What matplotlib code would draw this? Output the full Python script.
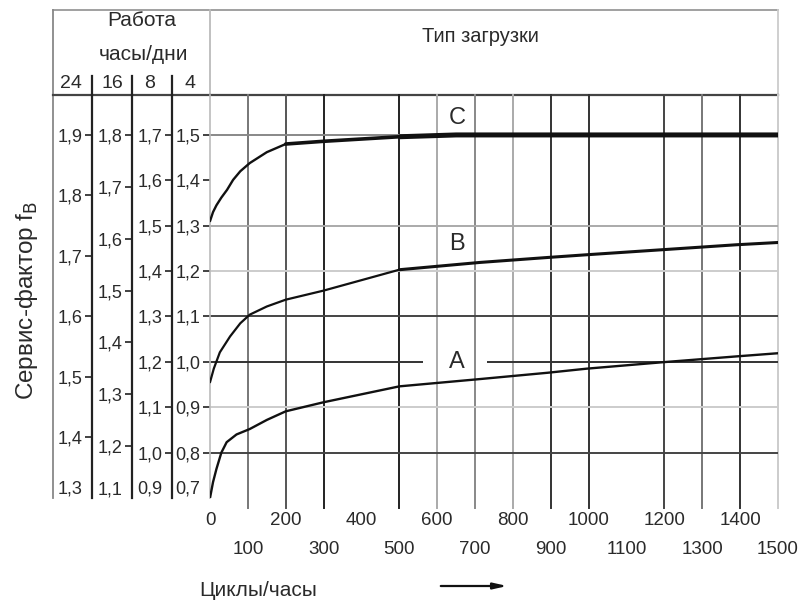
import matplotlib
matplotlib.use('Agg')
import matplotlib.pyplot as plt

plt.rcParams['font.family'] = ['Liberation Sans', 'DejaVu Sans']

# ---------------- data ----------------
cycles_A = [0, 8, 17, 30, 44, 70, 105, 150, 200, 300, 500, 712, 892, 995, 1193, 1390, 1500]
factor_A = [0.70, 0.735, 0.764, 0.80, 0.823, 0.84, 0.852, 0.872, 0.891, 0.911, 0.946, 0.962, 0.976, 0.985, 0.999, 1.012, 1.019]

cycles_B = [0, 10, 26, 53, 80, 105, 150, 200, 300, 500, 712, 892, 995, 1193, 1390, 1500]
factor_B = [0.955, 0.985, 1.021, 1.056, 1.085, 1.104, 1.122, 1.137, 1.157, 1.203, 1.219, 1.23, 1.236, 1.247, 1.258, 1.263]

cycles_C = [0, 8, 17, 30, 45, 61, 80, 105, 150, 200, 300, 500, 650, 1500]
factor_C = [1.31, 1.33, 1.345, 1.362, 1.379, 1.401, 1.42, 1.438, 1.462, 1.48, 1.486, 1.496, 1.5, 1.5]

curve_names = ['A', 'B', 'C']

x_ticks_row1 = [0, 200, 400, 600, 800, 1000, 1200, 1400]
x_ticks_row2 = [100, 300, 500, 700, 900, 1100, 1300, 1500]
grid_x = [100, 200, 300, 500, 600, 700, 800, 900, 1000, 1200, 1300, 1400, 1500]
grid_y = [1.5, 1.3, 1.2, 1.1, 0.9, 0.8]
ref_line_y = 1.0

hours = ['24', '16', '8', '4']
scale_24 = [1.9, 1.8, 1.7, 1.6, 1.5, 1.4, 1.3]
scale_16 = [1.8, 1.7, 1.6, 1.5, 1.4, 1.3, 1.2, 1.1]
scale_8 = [1.7, 1.6, 1.5, 1.4, 1.3, 1.2, 1.1, 1.0, 0.9]
scale_4 = [1.5, 1.4, 1.3, 1.2, 1.1, 1.0, 0.9, 0.8, 0.7]

# ---------------- styles ----------------
grid_x_shade = ['#777', '#555', '#222', '#222', '#aaa', '#888', '#aaa', '#333', '#333', '#444', '#777', '#333', '#ccc']
grid_y_shade = ['#888', '#aaa', '#ccc', '#444', '#ccc', '#444']
TXT = '#2a2a2a'


def fmt(v):
    return f"{v:.1f}".replace('.', ',')


W, H = 806, 602
fig = plt.figure(figsize=(W / 100, H / 100), dpi=100)

# pixel frame helper axes
frame = fig.add_axes([0, 0, 1, 1], zorder=0)
frame.set_xlim(0, W)
frame.set_ylim(H, 0)
frame.axis('off')

L, R, T, B = 210, 778, 95, 498
ax = fig.add_axes([L / W, 1 - B / H, (R - L) / W, (B - T) / H], zorder=2)
ax.patch.set_alpha(0)
ax.set_xlim(0, 1500)
ax.set_ylim(0.70, 1.588)
for s in ['top', 'right', 'bottom']:
    ax.spines[s].set_visible(False)
ax.spines['left'].set_color('#bbb')
ax.spines['left'].set_linewidth(1.2)

# grid
for gx, c in zip(grid_x, grid_x_shade):
    ax.axvline(gx, ymin=-0.025, ymax=1, color=c, lw=1.4, clip_on=False, zorder=1)
for gy, c in zip(grid_y, grid_y_shade):
    ax.axhline(gy, color=c, lw=1.4, zorder=1)
ax.hlines(ref_line_y, 0, 563, color='#333', lw=1.4, zorder=1)
ax.hlines(ref_line_y, 731, 1500, color='#333', lw=1.4, zorder=1)

# curves
ax.plot(cycles_A, factor_A, color='#111', lw=1.7, zorder=3, solid_capstyle='round')
ax.plot(cycles_B[:10], factor_B[:10], color='#111', lw=1.6, zorder=3, solid_capstyle='round')
ax.plot(cycles_B[9:], factor_B[9:], color='#111', lw=2.2, zorder=3, solid_capstyle='round')
ax.plot(cycles_C[:10], factor_C[:10], color='#111', lw=1.7, zorder=3, solid_capstyle='round')
ax.plot(cycles_C[9:12], factor_C[9:12], color='#111', lw=2.6, zorder=3, solid_capstyle='round')
ax.plot(cycles_C[11:], factor_C[11:], color='#111', lw=3.6, zorder=3, solid_capstyle='butt')

label_y = {'A': ref_line_y, 'B': 1.26, 'C': 1.537}
for n in curve_names:
    ax.text(652, label_y[n], n, fontsize=17, color=TXT, ha='center', va='center', zorder=4)

# x ticks, two rows
ax.set_xticks(x_ticks_row1, [str(v) for v in x_ticks_row1])
ax.set_xticks(x_ticks_row2, [str(v) for v in x_ticks_row2], minor=True)
ax.tick_params(axis='x', which='major', length=0, pad=10, labelsize=13.5, labelcolor=TXT)
ax.tick_params(axis='x', which='minor', length=0, pad=31, labelsize=13.5, labelcolor=TXT)

# 4 h/day scale = main axis
ax.set_yticks(scale_4, [fmt(v) for v in scale_4])
ax.tick_params(axis='y', direction='out', length=5, width=1.3, colors='#333', labelsize=13,
               labelcolor=TXT, pad=2)


def finish_scale(axis_obj, vals):
    ticks = axis_obj.get_major_ticks()
    ticks[len(vals) - 1].tick1line.set_visible(False)
    ticks[len(vals) - 1].label1.set_va('bottom')


finish_scale(ax.yaxis, scale_4)


def add_scale(px, vals, fwd, inv):
    sec = ax.secondary_yaxis((px - L) / (R - L), functions=(fwd, inv))
    sec.set_yticks(vals, [fmt(v) for v in vals])
    for sp in sec.spines.values():
        sp.set_color('#222')
        sp.set_linewidth(1.6)
    sec.tick_params(axis='y', direction='out', length=5, width=1.3, colors='#333', labelsize=13,
                    labelcolor=TXT, pad=2)
    finish_scale(sec.yaxis, vals)
    return sec


add_scale(172, scale_8, lambda m: m + 0.2, lambda v: v - 0.2)
add_scale(132, scale_16, lambda m: 1.8 + (m - 1.5) * 7 / 8, lambda v: 1.5 + (v - 1.8) * 8 / 7)
add_scale(92, scale_24, lambda m: 1.9 + (m - 1.5) * 0.75, lambda v: 1.5 + (v - 1.9) * 4 / 3)

# table frame
frame.plot([53, R], [10, 10], color='#999', lw=1.3)
frame.plot([53, 53], [10, B], color='#888', lw=1.3)
frame.plot([R, R], [10, T], color='#ccc', lw=1.3)
frame.plot([L, L], [10, T], color='#bbb', lw=1.3)
frame.plot([53, R], [T, T], color='#444', lw=1.6)
for cx in (92, 132, 172):
    frame.plot([cx, cx], [76, T], color='#222', lw=1.6)

# header texts
frame.text(142, 21, 'Работа', fontsize=15, color=TXT, ha='center', va='center')
frame.text(144, 55, 'часы/дни', fontsize=15, color=TXT, ha='center', va='center')
for hx, h in zip((71, 112, 150, 190), hours):
    frame.text(hx, 84, h, fontsize=14, color=TXT, ha='center', va='center')
frame.text(480, 37, 'Тип загрузки', fontsize=14.5, color=TXT, ha='center', va='center')

# axis titles
frame.text(27, 300, 'Сервис-фактор f$_{\\mathrm{B}}$', fontsize=17.5, color=TXT,
           rotation=90, ha='center', va='center')
frame.text(258, 590, 'Циклы/часы', fontsize=15, color=TXT, ha='center', va='center')
frame.annotate('', xy=(510, 586), xytext=(438, 586),
               arrowprops=dict(arrowstyle='-|>,head_length=0.8,head_width=0.18', color='#111', lw=1.6))

fig.savefig('out.png', dpi=100)
